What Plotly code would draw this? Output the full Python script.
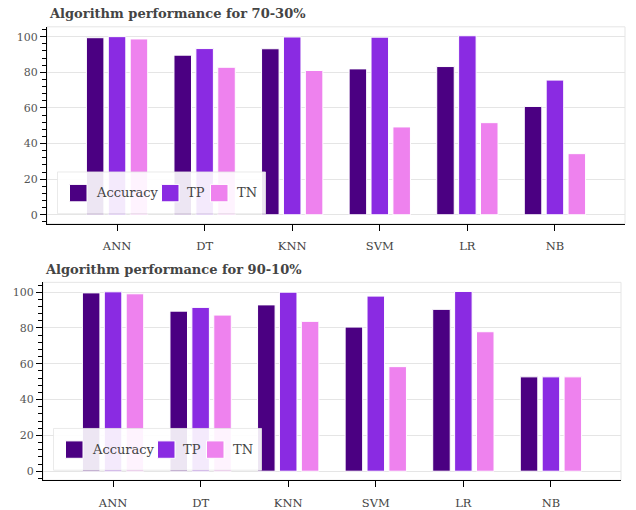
import plotly.graph_objects as go

# ---------------- data ----------------
models = ["ANN", "DT", "KNN", "SVM", "LR", "NB"]
metrics = ["Accuracy", "TP", "TN"]
colors = ["#4B0082", "#8A2BE2", "#EE82EE"]

acc_70 = [99.4, 89.6, 93.2, 81.9, 83.2, 60.8]
tp_70 = [100.0, 93.3, 99.8, 99.7, 100.5, 75.6]
tn_70 = [98.7, 82.8, 81.0, 49.3, 51.7, 34.3]

acc_90 = [99.6, 89.4, 92.9, 80.5, 90.4, 52.7]
tp_90 = [100.2, 91.5, 100.0, 97.8, 100.4, 52.7]
tn_90 = [99.1, 87.2, 83.7, 58.4, 77.9, 52.7]

titles = ["Algorithm performance for 70-30%", "Algorithm performance for 90-10%"]
y_ticks = [0, 20, 40, 60, 80, 100]

W, H = 636, 510
FONT = "DejaVu Serif"


def px(x):
    return x / W


def py(y):
    return 1 - y / H


panels = [
    dict(vals=[acc_70, tp_70, tn_70], title=titles[0], l=47, r=625, t=27, b=225,
         title_x=47, title_y=14),
    dict(vals=[acc_90, tp_90, tn_90], title=titles[1], l=43, r=621, t=284, b=483,
         title_x=43, title_y=271),
]

fig = go.Figure()
shapes = []
annotations = []
layout_axes = {}

for k, p in enumerate(panels):
    xa = "x" if k == 0 else f"x{k+1}"
    ya = "y" if k == 0 else f"y{k+1}"
    for name, col, vals in zip(metrics, colors, p["vals"]):
        fig.add_trace(go.Bar(
            x=models, y=vals, name=name, xaxis=xa, yaxis=ya,
            marker=dict(color=col, line=dict(color="white", width=1)),
            showlegend=False,
        ))
    xkey = "xaxis" if k == 0 else f"xaxis{k+1}"
    ykey = "yaxis" if k == 0 else f"yaxis{k+1}"
    layout_axes[xkey] = dict(
        domain=[px(p["l"]), px(p["r"])], anchor=ya, type="category",
        range=[-0.8, 5.8], showline=True, linecolor="black", linewidth=1,
        ticks="outside", ticklen=6, tickcolor="black", showgrid=False,
        tickfont=dict(family=FONT, size=11.5, color="#444"), ticklabelstandoff=6,
        fixedrange=True,
    )
    layout_axes[ykey] = dict(
        domain=[py(p["b"]), py(p["t"])], anchor=xa, range=[-5, 105.5],
        tickmode="array", tickvals=y_ticks, showline=True, linecolor="black",
        linewidth=1, ticks="outside", ticklen=6, tickcolor="black",
        minor=dict(dtick=4, tick0=0, ticks="outside", ticklen=4, tickcolor="black",
                   showgrid=False),
        showgrid=True, gridcolor="#e5e5e5", gridwidth=1, zeroline=False,
        tickfont=dict(family=FONT, size=11, color="#555"), fixedrange=True,
    )
    # plot outline
    shapes.append(dict(type="rect", xref="paper", yref="paper",
                       x0=px(p["l"]), x1=px(p["r"]), y0=py(p["b"]), y1=py(p["t"]),
                       line=dict(color="#e5e5e5", width=1), layer="below"))
    # title
    annotations.append(dict(text=f"<b>{p['title']}</b>", xref="paper", yref="paper",
                            x=px(p["title_x"]), y=py(p["title_y"]), xanchor="left",
                            yanchor="middle", showarrow=False,
                            font=dict(family=FONT, size=13, color="#444")))
    # legend (manual, Bokeh style)
    L, B = p["l"], p["b"]
    shapes.append(dict(type="rect", xref="paper", yref="paper",
                       x0=px(L + 10.5), x1=px(L + 218.5), y0=py(B - 10), y1=py(B - 52),
                       fillcolor="rgba(255,255,255,0.9)",
                       line=dict(color="rgba(229,229,229,0.8)", width=1), layer="above"))
    sw_x = [22.5, 114.5, 163.5]
    tx_x = [46.5, 138, 187.5]
    for name, col, sx, tx in zip(metrics, colors, sw_x, tx_x):
        shapes.append(dict(type="rect", xref="paper", yref="paper",
                           x0=px(L + sx), x1=px(L + sx + 17.5),
                           y0=py(B - 22), y1=py(B - 39.5),
                           fillcolor=col, line=dict(color="white", width=1),
                           layer="above"))
        annotations.append(dict(text=name, xref="paper", yref="paper",
                                x=px(L + tx), y=py(B - 31), xanchor="left",
                                yanchor="middle", showarrow=False,
                                font=dict(family=FONT, size=13, color="#444")))

fig.update_layout(
    width=W, height=H, margin=dict(l=0, r=0, t=0, b=0),
    paper_bgcolor="white", plot_bgcolor="white",
    barmode="group", bargap=0.25, bargroupgap=0.2,
    shapes=shapes, annotations=annotations, showlegend=False,
    font=dict(family=FONT),
    **layout_axes,
)

fig.write_html("out.html", config={"displayModeBar": False},
               post_script="document.body.style.margin='0';document.body.style.overflow='hidden';")
